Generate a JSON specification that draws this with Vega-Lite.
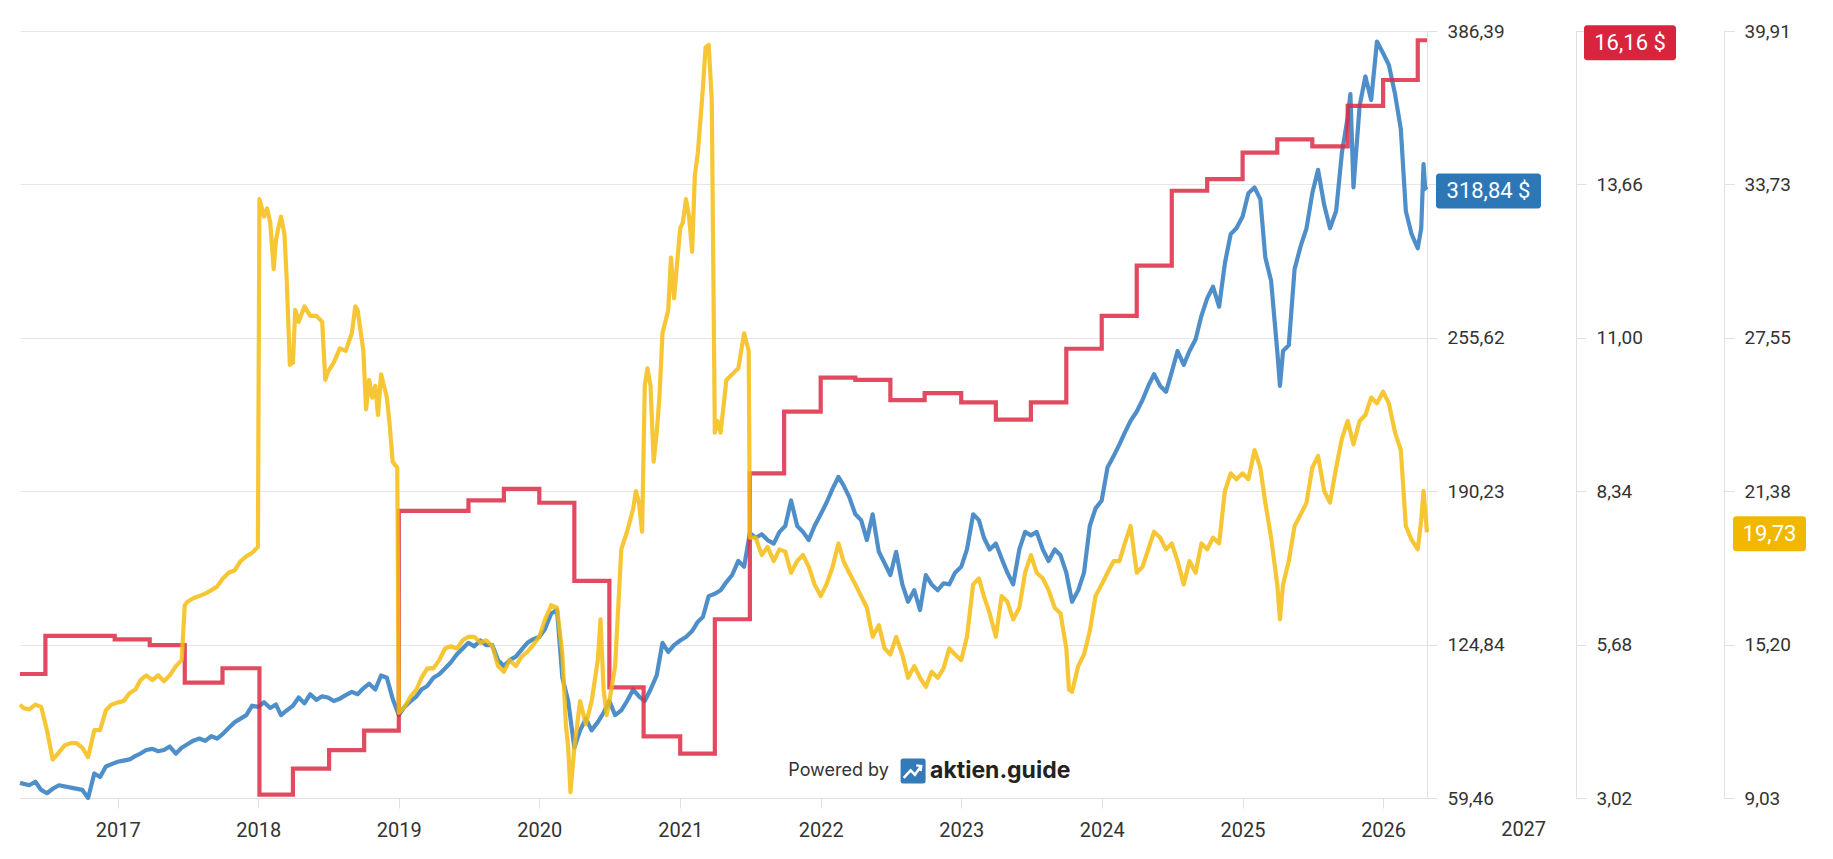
{
  "$schema": "https://vega.github.io/schema/vega-lite/v6.json",
  "width": 1407,
  "height": 767,
  "autosize": {"type": "none"},
  "padding": {"left": 20, "top": 31, "right": 406, "bottom": 61},
  "background": "white",
  "config": {"view": {"stroke": null}, "font": "Roboto"},
  "datasets": {
    "price": [
      {"d":"2016-04-22","v":65.9},{"d":"2016-05-16","v":64.9},{"d":"2016-06-01","v":66.4},{"d":"2016-06-16","v":62.9},{"d":"2016-07-01","v":61.5},{"d":"2016-07-16","v":63.4},{"d":"2016-08-01","v":64.9},{"d":"2016-09-01","v":63.9},{"d":"2016-10-01","v":62.9},{"d":"2016-10-16","v":59.5},{"d":"2016-11-01","v":69.9},{"d":"2016-11-16","v":68.4},{"d":"2016-12-01","v":72.9},{"d":"2016-12-16","v":73.9},
      {"d":"2017-01-01","v":74.9},{"d":"2017-01-16","v":75.4},{"d":"2017-02-01","v":75.9},{"d":"2017-02-16","v":77.4},{"d":"2017-03-01","v":78.4},{"d":"2017-03-16","v":79.9},{"d":"2017-04-01","v":80.4},{"d":"2017-04-16","v":79.4},{"d":"2017-05-01","v":79.9},{"d":"2017-05-16","v":81.4},{"d":"2017-06-01","v":78.4},{"d":"2017-06-16","v":80.9},{"d":"2017-07-01","v":82.4},{"d":"2017-07-16","v":83.9},{"d":"2017-08-01","v":84.8},{"d":"2017-08-16","v":83.8},{"d":"2017-09-01","v":85.8},{"d":"2017-09-16","v":84.8},{"d":"2017-10-01","v":86.8},{"d":"2017-10-16","v":89.3},{"d":"2017-11-01","v":91.8},{"d":"2017-11-16","v":93.3},{"d":"2017-12-01","v":94.8},{"d":"2017-12-16","v":98.8},
      {"d":"2018-01-01","v":98.3},{"d":"2018-01-16","v":100.3},{"d":"2018-02-01","v":97.8},{"d":"2018-02-16","v":99.3},{"d":"2018-03-01","v":94.8},{"d":"2018-03-16","v":96.8},{"d":"2018-04-01","v":98.8},{"d":"2018-04-16","v":102.3},{"d":"2018-05-01","v":99.8},{"d":"2018-05-16","v":103.7},{"d":"2018-06-01","v":101.3},{"d":"2018-06-16","v":102.8},{"d":"2018-07-01","v":102.3},{"d":"2018-07-16","v":100.8},{"d":"2018-08-01","v":101.8},{"d":"2018-08-16","v":103.3},{"d":"2018-09-01","v":104.7},{"d":"2018-09-16","v":103.7},{"d":"2018-10-01","v":106.2},{"d":"2018-10-16","v":108.2},{"d":"2018-11-01","v":105.7},{"d":"2018-11-16","v":111.7},{"d":"2018-12-01","v":110.7},{"d":"2018-12-16","v":101.8},
      {"d":"2019-01-01","v":94.8},{"d":"2019-01-16","v":98.3},{"d":"2019-02-01","v":100.8},{"d":"2019-02-16","v":102.8},{"d":"2019-03-01","v":105.7},{"d":"2019-03-16","v":107.2},{"d":"2019-04-01","v":110.7},{"d":"2019-04-16","v":112.2},{"d":"2019-05-01","v":114.7},{"d":"2019-05-16","v":117.2},{"d":"2019-06-01","v":120.7},{"d":"2019-06-16","v":123.2},{"d":"2019-07-01","v":125.6},{"d":"2019-07-16","v":124.1},{"d":"2019-08-01","v":126.6},{"d":"2019-08-16","v":124.6},{"d":"2019-09-01","v":124.6},{"d":"2019-09-16","v":118.2},{"d":"2019-10-01","v":115.7},{"d":"2019-10-16","v":118.2},{"d":"2019-11-01","v":119.7},{"d":"2019-11-16","v":122.7},{"d":"2019-12-01","v":125.6},{"d":"2019-12-16","v":127.1},
      {"d":"2020-01-01","v":128.1},{"d":"2020-01-16","v":131.6},{"d":"2020-02-01","v":138.1},{"d":"2020-02-16","v":139.6},{"d":"2020-03-01","v":110.7},{"d":"2020-03-16","v":100.8},{"d":"2020-04-01","v":80.9},{"d":"2020-04-16","v":88.3},{"d":"2020-05-01","v":93.3},{"d":"2020-05-16","v":88.3},{"d":"2020-06-01","v":91.8},{"d":"2020-06-16","v":95.8},{"d":"2020-07-01","v":100.8},{"d":"2020-07-16","v":94.8},{"d":"2020-08-01","v":96.8},{"d":"2020-08-16","v":100.8},{"d":"2020-09-01","v":105.7},{"d":"2020-09-16","v":102.8},{"d":"2020-10-01","v":100.8},{"d":"2020-10-16","v":105.7},{"d":"2020-11-01","v":111.7},{"d":"2020-11-16","v":125.6},{"d":"2020-12-01","v":121.7},{"d":"2020-12-16","v":124.6},
      {"d":"2021-01-01","v":126.6},{"d":"2021-01-16","v":128.1},{"d":"2021-02-01","v":130.6},{"d":"2021-02-16","v":134.6},{"d":"2021-03-01","v":136.6},{"d":"2021-03-16","v":145.5},{"d":"2021-04-01","v":146.5},{"d":"2021-04-16","v":148.0},{"d":"2021-05-01","v":151.5},{"d":"2021-05-16","v":154.5},{"d":"2021-06-01","v":160.5},{"d":"2021-06-16","v":158.0},{"d":"2021-07-01","v":172.4},{"d":"2021-07-16","v":170.4},{"d":"2021-08-01","v":171.9},{"d":"2021-08-16","v":169.4},{"d":"2021-09-01","v":167.9},{"d":"2021-09-16","v":172.9},{"d":"2021-10-01","v":175.4},{"d":"2021-10-16","v":186.3},{"d":"2021-11-01","v":175.4},{"d":"2021-11-16","v":172.9},{"d":"2021-12-01","v":169.4},{"d":"2021-12-16","v":175.4},
      {"d":"2022-01-01","v":180.4},{"d":"2022-01-16","v":185.3},{"d":"2022-02-01","v":191.3},{"d":"2022-02-16","v":196.3},{"d":"2022-03-01","v":192.8},{"d":"2022-03-16","v":187.8},{"d":"2022-04-01","v":180.4},{"d":"2022-04-16","v":177.9},{"d":"2022-05-01","v":169.4},{"d":"2022-05-16","v":180.4},{"d":"2022-06-01","v":164.4},{"d":"2022-06-16","v":159.5},{"d":"2022-07-01","v":154.5},{"d":"2022-07-16","v":164.4},{"d":"2022-08-01","v":150.5},{"d":"2022-08-16","v":143.1},{"d":"2022-09-01","v":148.0},{"d":"2022-09-16","v":139.6},{"d":"2022-10-01","v":154.5},{"d":"2022-10-16","v":150.5},{"d":"2022-11-01","v":148.0},{"d":"2022-11-16","v":151.0},{"d":"2022-12-01","v":150.5},{"d":"2022-12-16","v":155.5},
      {"d":"2023-01-01","v":158.0},{"d":"2023-01-16","v":165.4},{"d":"2023-02-01","v":180.4},{"d":"2023-02-16","v":177.9},{"d":"2023-03-01","v":170.4},{"d":"2023-03-16","v":165.4},{"d":"2023-04-01","v":167.9},{"d":"2023-04-16","v":161.5},{"d":"2023-05-01","v":155.5},{"d":"2023-05-16","v":150.5},{"d":"2023-06-01","v":165.4},{"d":"2023-06-16","v":172.9},{"d":"2023-07-01","v":171.4},{"d":"2023-07-16","v":172.9},{"d":"2023-08-01","v":165.4},{"d":"2023-08-16","v":160.5},{"d":"2023-09-01","v":165.4},{"d":"2023-09-16","v":162.9},{"d":"2023-10-01","v":155.5},{"d":"2023-10-16","v":143.1},{"d":"2023-11-01","v":148.0},{"d":"2023-11-16","v":155.5},{"d":"2023-12-01","v":175.4},{"d":"2023-12-16","v":182.9},
      {"d":"2024-01-01","v":186.3},{"d":"2024-01-16","v":200.3},{"d":"2024-02-01","v":205.2},{"d":"2024-02-16","v":210.2},{"d":"2024-03-01","v":215.2},{"d":"2024-03-16","v":220.2},{"d":"2024-04-01","v":224.2},{"d":"2024-04-16","v":229.1},{"d":"2024-05-01","v":235.1},{"d":"2024-05-16","v":240.1},{"d":"2024-06-01","v":235.1},{"d":"2024-06-16","v":232.6},{"d":"2024-07-01","v":241.1},{"d":"2024-07-16","v":250.0},{"d":"2024-08-01","v":244.1},{"d":"2024-08-16","v":250.0},{"d":"2024-09-01","v":255.0},{"d":"2024-09-16","v":265.0},{"d":"2024-10-01","v":272.4},{"d":"2024-10-16","v":277.4},{"d":"2024-11-01","v":268.9},{"d":"2024-11-16","v":287.4},{"d":"2024-12-01","v":299.8},{"d":"2024-12-16","v":302.3},
      {"d":"2025-01-01","v":307.3},{"d":"2025-01-16","v":317.2},{"d":"2025-02-01","v":319.7},{"d":"2025-02-16","v":314.7},{"d":"2025-03-01","v":289.8},{"d":"2025-03-16","v":279.9},{"d":"2025-04-01","v":250.0},{"d":"2025-04-08","v":235.1},{"d":"2025-04-16","v":250.0},{"d":"2025-05-01","v":252.5},{"d":"2025-05-16","v":284.9},{"d":"2025-06-01","v":294.8},{"d":"2025-06-16","v":302.3},{"d":"2025-07-01","v":317.2},{"d":"2025-07-16","v":327.2},{"d":"2025-08-01","v":312.2},{"d":"2025-08-16","v":302.3},{"d":"2025-09-01","v":309.7},{"d":"2025-09-16","v":334.6},{"d":"2025-10-01","v":349.6},{"d":"2025-10-08","v":359.5},{"d":"2025-10-16","v":319.7},{"d":"2025-11-01","v":354.5},{"d":"2025-11-16","v":367.0},{"d":"2025-12-01","v":357.0},{"d":"2025-12-16","v":381.9},
      {"d":"2026-01-01","v":376.9},{"d":"2026-01-16","v":371.9},{"d":"2026-02-01","v":359.5},{"d":"2026-02-16","v":344.6},{"d":"2026-03-01","v":309.7},{"d":"2026-03-16","v":299.8},{"d":"2026-04-01","v":293.8},{"d":"2026-04-10","v":302.3},{"d":"2026-04-16","v":329.7},{"d":"2026-04-20","v":319.7},{"d":"2026-04-25","v":318.84}
    ],
    "eps": [
      {"d":"2016-04-22","v":5.17},{"d":"2016-06-27","v":5.83},{"d":"2016-12-24","v":5.77},{"d":"2017-03-25","v":5.67},{"d":"2017-06-24","v":5.02},{"d":"2017-09-30","v":5.27},{"d":"2018-01-04","v":3.08},{"d":"2018-04-01","v":3.53},{"d":"2018-07-04","v":3.85},{"d":"2018-10-03","v":4.19},{"d":"2019-01-01","v":8.0},{"d":"2019-07-01","v":8.18},{"d":"2019-10-01","v":8.38},{"d":"2020-01-01","v":8.14},{"d":"2020-04-01","v":6.785},{"d":"2020-07-01","v":4.94},{"d":"2020-09-28","v":4.09},{"d":"2021-01-01","v":3.79},{"d":"2021-04-01","v":6.12},{"d":"2021-07-01","v":8.65},{"d":"2021-09-28","v":9.72},{"d":"2022-01-01","v":10.31},{"d":"2022-04-01","v":10.27},{"d":"2022-07-01","v":9.92},{"d":"2022-09-28","v":10.04},{"d":"2023-01-01","v":9.88},{"d":"2023-04-01","v":9.58},{"d":"2023-07-01","v":9.88},{"d":"2023-10-01","v":10.81},{"d":"2024-01-01","v":11.38},{"d":"2024-04-01","v":12.25},{"d":"2024-07-01","v":13.55},{"d":"2024-10-01","v":13.75},{"d":"2025-01-01","v":14.21},{"d":"2025-04-01","v":14.44},{"d":"2025-07-01","v":14.32},{"d":"2025-10-01","v":15.02},{"d":"2026-01-01","v":15.47},{"d":"2026-04-01","v":16.16},{"d":"2026-04-25","v":16.16}
    ],
    "pe": [
      {"d":"2016-04-22","v":12.79},{"d":"2016-05-01","v":12.65},{"d":"2016-05-16","v":12.6},{"d":"2016-06-01","v":12.79},{"d":"2016-06-16","v":12.7},{"d":"2016-07-01","v":11.76},{"d":"2016-07-16","v":10.58},{"d":"2016-08-01","v":10.86},{"d":"2016-08-16","v":11.15},{"d":"2016-09-01","v":11.24},{"d":"2016-09-16","v":11.24},{"d":"2016-10-01","v":11.05},{"d":"2016-10-16","v":10.68},{"d":"2016-11-01","v":11.76},{"d":"2016-11-16","v":11.76},{"d":"2016-12-01","v":12.56},{"d":"2016-12-16","v":12.79},
      {"d":"2017-01-01","v":12.88},{"d":"2017-01-16","v":12.93},{"d":"2017-02-01","v":13.26},{"d":"2017-02-16","v":13.4},{"d":"2017-03-01","v":13.78},{"d":"2017-03-16","v":13.97},{"d":"2017-04-01","v":13.78},{"d":"2017-04-16","v":13.97},{"d":"2017-05-01","v":13.73},{"d":"2017-05-16","v":13.97},{"d":"2017-06-01","v":14.34},{"d":"2017-06-16","v":14.58},{"d":"2017-06-24","v":16.79},{"d":"2017-07-01","v":16.93},{"d":"2017-07-16","v":17.07},{"d":"2017-08-01","v":17.16},{"d":"2017-08-16","v":17.26},{"d":"2017-09-01","v":17.4},{"d":"2017-09-16","v":17.54},{"d":"2017-10-01","v":17.87},{"d":"2017-10-16","v":18.1},{"d":"2017-11-01","v":18.2},{"d":"2017-11-16","v":18.57},{"d":"2017-12-01","v":18.76},{"d":"2017-12-16","v":18.9},{"d":"2017-12-31","v":19.14},
      {"d":"2018-01-04","v":33.14},{"d":"2018-01-16","v":32.44},{"d":"2018-01-24","v":32.77},{"d":"2018-02-01","v":32.2},{"d":"2018-02-10","v":30.32},{"d":"2018-02-16","v":31.5},{"d":"2018-02-22","v":31.97},{"d":"2018-03-01","v":32.44},{"d":"2018-03-10","v":31.73},{"d":"2018-03-16","v":29.85},{"d":"2018-03-24","v":26.47},{"d":"2018-04-01","v":26.56},{"d":"2018-04-07","v":28.68},{"d":"2018-04-16","v":28.2},{"d":"2018-05-01","v":28.82},{"d":"2018-05-16","v":28.44},{"d":"2018-06-01","v":28.44},{"d":"2018-06-16","v":28.2},{"d":"2018-06-24","v":25.86},{"d":"2018-07-01","v":26.19},{"d":"2018-07-16","v":26.56},{"d":"2018-08-01","v":27.13},{"d":"2018-08-16","v":27.03},{"d":"2018-09-01","v":27.74},{"d":"2018-09-10","v":28.82},{"d":"2018-09-16","v":28.68},{"d":"2018-10-01","v":27.03},{"d":"2018-10-08","v":24.68},{"d":"2018-10-16","v":25.86},{"d":"2018-10-24","v":25.15},{"d":"2018-11-01","v":25.62},{"d":"2018-11-08","v":24.45},{"d":"2018-11-16","v":26.09},{"d":"2018-12-01","v":25.15},{"d":"2018-12-08","v":24.12},{"d":"2018-12-16","v":22.57},{"d":"2018-12-28","v":22.33},
      {"d":"2019-01-01","v":12.46},{"d":"2019-01-16","v":12.7},{"d":"2019-02-01","v":13.12},{"d":"2019-02-16","v":13.4},{"d":"2019-03-01","v":13.87},{"d":"2019-03-16","v":14.25},{"d":"2019-04-01","v":14.25},{"d":"2019-04-16","v":14.58},{"d":"2019-05-01","v":15.05},{"d":"2019-05-16","v":15.14},{"d":"2019-06-01","v":15.05},{"d":"2019-06-16","v":15.38},{"d":"2019-07-01","v":15.52},{"d":"2019-07-16","v":15.52},{"d":"2019-08-01","v":15.28},{"d":"2019-08-16","v":15.38},{"d":"2019-09-01","v":15.14},{"d":"2019-09-16","v":14.34},{"d":"2019-10-01","v":14.11},{"d":"2019-10-16","v":14.58},{"d":"2019-11-01","v":14.34},{"d":"2019-11-16","v":14.72},{"d":"2019-12-01","v":14.91},{"d":"2019-12-16","v":15.19},
      {"d":"2020-01-01","v":15.52},{"d":"2020-01-16","v":16.22},{"d":"2020-02-01","v":16.79},{"d":"2020-02-16","v":16.69},{"d":"2020-03-01","v":14.81},{"d":"2020-03-10","v":12.0},{"d":"2020-03-16","v":11.05},{"d":"2020-03-22","v":9.27},{"d":"2020-04-01","v":11.05},{"d":"2020-04-16","v":12.93},{"d":"2020-05-01","v":12.0},{"d":"2020-05-16","v":12.93},{"d":"2020-06-01","v":14.58},{"d":"2020-06-08","v":16.22},{"d":"2020-06-16","v":13.4},{"d":"2020-06-24","v":12.37},{"d":"2020-07-01","v":12.93},{"d":"2020-07-16","v":14.34},{"d":"2020-08-01","v":19.04},{"d":"2020-08-16","v":19.75},{"d":"2020-09-01","v":20.69},{"d":"2020-09-08","v":21.39},{"d":"2020-09-16","v":20.92},{"d":"2020-09-24","v":19.75},{"d":"2020-10-01","v":25.62},{"d":"2020-10-08","v":26.33},{"d":"2020-10-16","v":25.62},{"d":"2020-10-24","v":22.57},{"d":"2020-11-01","v":23.74},{"d":"2020-11-08","v":25.15},{"d":"2020-11-16","v":27.74},{"d":"2020-12-01","v":28.68},{"d":"2020-12-08","v":30.79},{"d":"2020-12-16","v":29.15},
      {"d":"2021-01-01","v":31.97},{"d":"2021-01-08","v":32.2},{"d":"2021-01-16","v":33.14},{"d":"2021-01-24","v":32.44},{"d":"2021-02-01","v":31.03},{"d":"2021-02-08","v":34.08},{"d":"2021-02-16","v":35.02},{"d":"2021-03-01","v":37.61},{"d":"2021-03-08","v":39.25},{"d":"2021-03-16","v":39.35},{"d":"2021-03-24","v":37.14},{"d":"2021-04-01","v":23.74},{"d":"2021-04-08","v":24.21},{"d":"2021-04-16","v":23.74},{"d":"2021-05-01","v":25.86},{"d":"2021-05-16","v":26.09},{"d":"2021-06-01","v":26.33},{"d":"2021-06-16","v":27.74},{"d":"2021-06-28","v":27.03},{"d":"2021-07-01","v":19.51},{"d":"2021-07-16","v":19.51},{"d":"2021-08-01","v":18.81},{"d":"2021-08-16","v":19.14},{"d":"2021-09-01","v":18.57},{"d":"2021-09-16","v":19.04},{"d":"2021-10-01","v":18.95},{"d":"2021-10-16","v":18.1},{"d":"2021-11-01","v":18.57},{"d":"2021-11-16","v":18.81},{"d":"2021-12-01","v":18.34},{"d":"2021-12-16","v":17.63},
      {"d":"2022-01-01","v":17.16},{"d":"2022-01-16","v":17.63},{"d":"2022-02-01","v":18.34},{"d":"2022-02-16","v":19.28},{"d":"2022-03-01","v":18.57},{"d":"2022-03-16","v":18.1},{"d":"2022-04-01","v":17.63},{"d":"2022-04-16","v":17.16},{"d":"2022-05-01","v":16.69},{"d":"2022-05-16","v":15.52},{"d":"2022-06-01","v":15.99},{"d":"2022-06-16","v":15.05},{"d":"2022-07-01","v":14.81},{"d":"2022-07-16","v":15.52},{"d":"2022-08-01","v":14.81},{"d":"2022-08-16","v":13.87},{"d":"2022-09-01","v":14.34},{"d":"2022-09-16","v":13.87},{"d":"2022-10-01","v":13.5},{"d":"2022-10-16","v":14.11},{"d":"2022-11-01","v":13.87},{"d":"2022-11-16","v":14.25},{"d":"2022-12-01","v":15.05},{"d":"2022-12-16","v":14.81},
      {"d":"2023-01-01","v":14.58},{"d":"2023-01-16","v":15.52},{"d":"2023-02-01","v":17.63},{"d":"2023-02-16","v":17.87},{"d":"2023-03-01","v":17.16},{"d":"2023-03-16","v":16.46},{"d":"2023-04-01","v":15.52},{"d":"2023-04-16","v":17.16},{"d":"2023-05-01","v":16.93},{"d":"2023-05-16","v":16.22},{"d":"2023-06-01","v":16.69},{"d":"2023-06-16","v":18.1},{"d":"2023-07-01","v":18.81},{"d":"2023-07-16","v":18.1},{"d":"2023-08-01","v":17.87},{"d":"2023-08-16","v":17.4},{"d":"2023-09-01","v":16.69},{"d":"2023-09-16","v":16.46},{"d":"2023-10-01","v":15.05},{"d":"2023-10-08","v":13.4},{"d":"2023-10-16","v":13.31},{"d":"2023-11-01","v":14.34},{"d":"2023-11-16","v":14.81},{"d":"2023-12-01","v":15.75},{"d":"2023-12-16","v":17.16},
      {"d":"2024-01-01","v":17.63},{"d":"2024-01-16","v":18.1},{"d":"2024-02-01","v":18.57},{"d":"2024-02-16","v":18.57},{"d":"2024-03-01","v":19.28},{"d":"2024-03-16","v":19.98},{"d":"2024-04-01","v":18.1},{"d":"2024-04-16","v":18.34},{"d":"2024-05-01","v":19.04},{"d":"2024-05-16","v":19.75},{"d":"2024-06-01","v":19.51},{"d":"2024-06-16","v":19.04},{"d":"2024-07-01","v":19.28},{"d":"2024-07-16","v":18.57},{"d":"2024-08-01","v":17.63},{"d":"2024-08-16","v":18.57},{"d":"2024-09-01","v":18.1},{"d":"2024-09-16","v":19.28},{"d":"2024-10-01","v":19.04},{"d":"2024-10-16","v":19.51},{"d":"2024-11-01","v":19.28},{"d":"2024-11-16","v":21.39},{"d":"2024-12-01","v":22.1},{"d":"2024-12-16","v":21.86},
      {"d":"2025-01-01","v":22.1},{"d":"2025-01-16","v":21.86},{"d":"2025-02-01","v":23.04},{"d":"2025-02-16","v":22.33},{"d":"2025-03-01","v":20.92},{"d":"2025-03-16","v":19.51},{"d":"2025-04-01","v":17.63},{"d":"2025-04-08","v":16.22},{"d":"2025-04-16","v":17.63},{"d":"2025-05-01","v":18.57},{"d":"2025-05-16","v":19.98},{"d":"2025-06-01","v":20.45},{"d":"2025-06-16","v":20.92},{"d":"2025-07-01","v":22.33},{"d":"2025-07-16","v":22.8},{"d":"2025-08-01","v":21.39},{"d":"2025-08-16","v":20.92},{"d":"2025-09-01","v":22.33},{"d":"2025-09-16","v":23.51},{"d":"2025-10-01","v":24.21},{"d":"2025-10-16","v":23.27},{"d":"2025-11-01","v":24.21},{"d":"2025-11-16","v":24.45},{"d":"2025-12-01","v":25.15},{"d":"2025-12-16","v":24.92},
      {"d":"2026-01-01","v":25.39},{"d":"2026-01-16","v":24.92},{"d":"2026-02-01","v":23.74},{"d":"2026-02-16","v":23.04},{"d":"2026-03-01","v":19.98},{"d":"2026-03-16","v":19.42},{"d":"2026-04-01","v":19.04},{"d":"2026-04-10","v":20.22},{"d":"2026-04-16","v":21.39},{"d":"2026-04-25","v":19.73}
    ]
  },
  "resolve": {"scale": {"y": "independent"}, "axis": {"y": "independent"}},
  "layer": [
    {
      "data": {"name": "price"},
      "layer": [
        {
          "mark": {"type": "line", "color": "#2f7abf", "strokeWidth": 4.2, "opacity": 0.85, "strokeJoin": "round"},
          "encoding": {
            "x": {"field": "d", "type": "temporal",
              "scale": {"domain": [{"year": 2016, "month": 4, "date": 22}, {"year": 2026, "month": 4, "date": 25}]},
              "axis": {"title": null, "grid": false, "format": "%Y",
                "values": [{"year":2017,"month":1,"date":1},{"year":2018,"month":1,"date":1},{"year":2019,"month":1,"date":1},{"year":2020,"month":1,"date":1},{"year":2021,"month":1,"date":1},{"year":2022,"month":1,"date":1},{"year":2023,"month":1,"date":1},{"year":2024,"month":1,"date":1},{"year":2025,"month":1,"date":1},{"year":2026,"month":1,"date":1}],
                "labelFontSize": 20, "labelColor": "#333333", "labelFont": "Roboto", "tickSize": 10, "tickColor": "#e0e0e0", "domainColor": "#e0e0e0", "labelPadding": 12, "labelFlush": false, "labelOverlap": false}},
            "y": {"field": "v", "type": "quantitative",
              "scale": {"domain": [59.46, 386.39], "nice": false, "zero": false},
              "axis": {"orient": "right", "offset": 0, "title": null, "values": [59.46, 124.84, 190.23, 255.62, 321.0, 386.39],
                "labelExpr": "datum.value > 320 && datum.value < 322 ? '' : replace(format(datum.value, '.2f'), '.', ',')", "grid": true, "gridColor": "#e6e6e6",
                "domainColor": "#e0e0e0", "tickColor": "#e0e0e0", "tickSize": 10, "labelPadding": 10, "labelFontSize": 19, "labelColor": "#333333", "labelFont": "Roboto"}}
          }
        },
        {
          "data": {"values": [{}]},
          "mark": {"type": "rect", "color": "#2e77b7", "cornerRadius": 3, "xOffset": 9, "x2Offset": 114, "yOffset": -16, "y2Offset": 19},
          "encoding": {
            "x": {"datum": {"year": 2026, "month": 4, "date": 25}, "type": "temporal"},
            "x2": {"datum": {"year": 2026, "month": 4, "date": 25}},
            "y": {"datum": 318.84, "type": "quantitative"},
            "y2": {"datum": 318.84}
          }
        },
        {
          "data": {"values": [{}]},
          "mark": {"type": "text", "text": "318,84 $", "color": "white", "fontSize": 22, "font": "Roboto", "align": "center", "baseline": "middle", "dx": 61.5, "dy": 2},
          "encoding": {
            "x": {"datum": {"year": 2026, "month": 4, "date": 25}, "type": "temporal"},
            "y": {"datum": 318.84, "type": "quantitative"}
          }
        },
        {
          "data": {"values": [{}]},
          "mark": {"type": "text", "text": "2027", "color": "#333333", "fontSize": 20, "font": "Roboto", "align": "center", "baseline": "top", "dy": 22},
          "encoding": {
            "x": {"datum": {"year": 2027, "month": 1, "date": 1}, "type": "temporal"},
            "y": {"datum": 59.46, "type": "quantitative"}
          }
        },
        {
          "data": {"values": [{}]},
          "mark": {"type": "text", "text": "Powered by", "color": "#333333", "fontSize": 18, "font": "Inter", "align": "right", "baseline": "middle"},
          "encoding": {
            "x": {"datum": {"year": 2022, "month": 6, "date": 27}, "type": "temporal"},
            "y": {"datum": 70.97, "type": "quantitative"}
          }
        },
        {
          "data": {"values": [{}]},
          "mark": {"type": "point", "shape": "M-0.8,-1H0.8Q1,-1,1,-0.8V0.8Q1,1,0.8,1H-0.8Q-1,1,-1,0.8V-0.8Q-1,-1,-0.8,-1Z", "size": 625, "filled": true, "color": "#3479b8", "opacity": 1},
          "encoding": {
            "x": {"datum": {"year": 2022, "month": 8, "date": 29}, "type": "temporal"},
            "y": {"datum": 70.97, "type": "quantitative"}
          }
        },
        {
          "data": {"values": [{}]},
          "mark": {"type": "point", "shape": "M-0.75,0.55L-0.2,-0.05L0.15,0.3L0.6,-0.35M0.25,-0.45L0.65,-0.4L0.6,0", "size": 625, "filled": false, "color": "white", "strokeWidth": 2.5, "opacity": 1},
          "encoding": {
            "x": {"datum": {"year": 2022, "month": 8, "date": 29}, "type": "temporal"},
            "y": {"datum": 70.97, "type": "quantitative"}
          }
        },
        {
          "data": {"values": [{}]},
          "mark": {"type": "text", "text": "aktien.guide", "color": "#222222", "fontSize": 23, "fontWeight": "bold", "font": "Inter", "align": "left", "baseline": "middle"},
          "encoding": {
            "x": {"datum": {"year": 2022, "month": 10, "date": 12}, "type": "temporal"},
            "y": {"datum": 70.97, "type": "quantitative"}
          }
        }
      ]
    },
    {
      "data": {"name": "eps"},
      "layer": [
        {
          "mark": {"type": "line", "color": "#dc2a44", "strokeWidth": 4.2, "opacity": 0.85, "interpolate": "step-after"},
          "encoding": {
            "x": {"field": "d", "type": "temporal"},
            "y": {"field": "v", "type": "quantitative",
              "scale": {"domain": [3.02, 16.32], "nice": false, "zero": false},
              "axis": {"orient": "right", "offset": 149, "title": null, "values": [3.02, 5.68, 8.34, 11.0, 13.66, 16.32],
                "labelExpr": "datum.value > 16 ? '' : replace(format(datum.value, '.2f'), '.', ',')", "grid": false,
                "domainColor": "#e0e0e0", "tickColor": "#e0e0e0", "tickSize": 10, "labelPadding": 10, "labelFontSize": 19, "labelColor": "#333333", "labelFont": "Roboto"}}
          }
        },
        {
          "data": {"values": [{}]},
          "mark": {"type": "rect", "color": "#d9243e", "cornerRadius": 3, "xOffset": 157, "x2Offset": 249, "yOffset": -15, "y2Offset": 20},
          "encoding": {
            "x": {"datum": {"year": 2026, "month": 4, "date": 25}, "type": "temporal"},
            "x2": {"datum": {"year": 2026, "month": 4, "date": 25}},
            "y": {"datum": 16.16, "type": "quantitative"},
            "y2": {"datum": 16.16}
          }
        },
        {
          "data": {"values": [{}]},
          "mark": {"type": "text", "text": "16,16 $", "color": "white", "fontSize": 22, "font": "Roboto", "align": "center", "baseline": "middle", "dx": 203, "dy": 3},
          "encoding": {
            "x": {"datum": {"year": 2026, "month": 4, "date": 25}, "type": "temporal"},
            "y": {"datum": 16.16, "type": "quantitative"}
          }
        }
      ]
    },
    {
      "data": {"name": "pe"},
      "layer": [
        {
          "mark": {"type": "line", "color": "#f4bc10", "strokeWidth": 4.2, "opacity": 0.85, "strokeJoin": "round"},
          "encoding": {
            "x": {"field": "d", "type": "temporal"},
            "y": {"field": "v", "type": "quantitative",
              "scale": {"domain": [9.03, 39.91], "nice": false, "zero": false},
              "axis": {"orient": "right", "offset": 297, "title": null, "values": [9.03, 15.2, 21.38, 27.55, 33.73, 39.91],
                "labelExpr": "replace(format(datum.value, '.2f'), '.', ',')", "grid": false,
                "domainColor": "#e0e0e0", "tickColor": "#e0e0e0", "tickSize": 10, "labelPadding": 10, "labelFontSize": 19, "labelColor": "#333333", "labelFont": "Roboto"}}
          }
        },
        {
          "data": {"values": [{}]},
          "mark": {"type": "rect", "color": "#f2b700", "cornerRadius": 3, "xOffset": 306, "x2Offset": 379, "yOffset": -16, "y2Offset": 19},
          "encoding": {
            "x": {"datum": {"year": 2026, "month": 4, "date": 25}, "type": "temporal"},
            "x2": {"datum": {"year": 2026, "month": 4, "date": 25}},
            "y": {"datum": 19.73, "type": "quantitative"},
            "y2": {"datum": 19.73}
          }
        },
        {
          "data": {"values": [{}]},
          "mark": {"type": "text", "text": "19,73", "color": "white", "fontSize": 22, "font": "Roboto", "align": "center", "baseline": "middle", "dx": 342.5, "dy": 2},
          "encoding": {
            "x": {"datum": {"year": 2026, "month": 4, "date": 25}, "type": "temporal"},
            "y": {"datum": 19.73, "type": "quantitative"}
          }
        }
      ]
    }
  ]
}
